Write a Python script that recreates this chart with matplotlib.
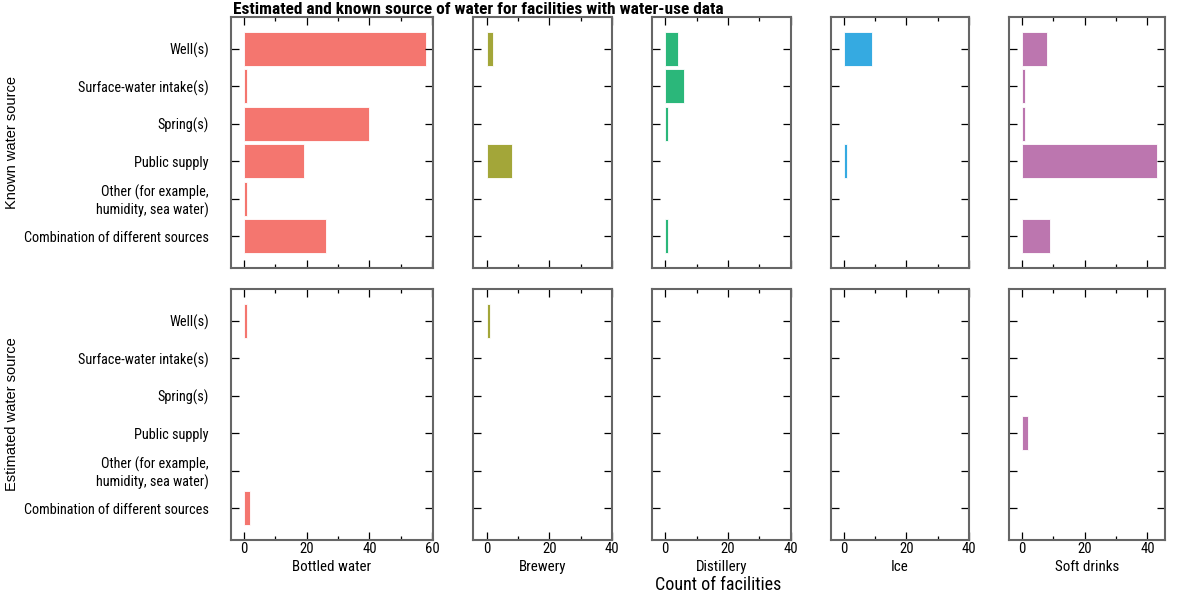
import matplotlib
matplotlib.use('Agg')
import matplotlib.pyplot as plt
from matplotlib.ticker import MultipleLocator

# water source categories, top to bottom
sources = ['Well(s)', 'Surface-water intake(s)', 'Spring(s)', 'Public supply',
           'Other (for example,\nhumidity, sea water)', 'Combination of different sources']
industries = ['Bottled water', 'Brewery', 'Distillery', 'Ice', 'Soft drinks']

# counts of facilities, one list per industry (same order as sources)
known_bottled = [58, 1, 40, 19, 1, 26]
known_brewery = [2, 0, 0, 8, 0, 0]
known_distillery = [4, 6, 1, 0, 0, 1]
known_ice = [9, 0, 0, 1, 0, 0]
known_soft = [8, 1, 1, 43, 0, 9]

est_bottled = [1, 0, 0, 0, 0, 2]
est_brewery = [1, 0, 0, 0, 0, 0]
est_distillery = [0, 0, 0, 0, 0, 0]
est_ice = [0, 0, 0, 0, 0, 0]
est_soft = [0, 0, 0, 2, 0, 0]

known = [known_bottled, known_brewery, known_distillery, known_ice, known_soft]
estimated = [est_bottled, est_brewery, est_distillery, est_ice, est_soft]
row_labels = ['Known water source', 'Estimated water source']

colors = ['#F4766F', '#A3A639', '#2BB77A', '#35AAE1', '#BC76AF']
x_limits = [(-4.2, 60.3), (-4.4, 40), (-4.2, 40), (-4.2, 40), (-4.2, 45.6)]
x_majors = [[0, 20, 40, 60], [0, 20, 40], [0, 20, 40], [0, 20, 40], [0, 20, 40]]

cond = dict(family=['Roboto Condensed', 'DejaVu Sans'])
W, H = 1180, 595
fig = plt.figure(figsize=(W / 100, H / 100), dpi=100)

left_px, right_px, gap_px = 231, 1165, 40
rows_px = [(17, 268), (289, 540)]
total_range = sum(hi - lo for lo, hi in x_limits)
scale = (right_px - left_px - gap_px * 4) / total_range

for r, data in enumerate([known, estimated]):
    top, bottom = rows_px[r]
    x0 = left_px
    for c in range(5):
        lo, hi = x_limits[c]
        w = (hi - lo) * scale
        ax = fig.add_axes([x0 / W, 1 - bottom / H, w / W, (bottom - top) / H])
        x0 += w + gap_px
        ax.barh(range(len(sources)), data[c], height=0.9, color=colors[c],
                edgecolor='white', linewidth=0.6)
        ax.set_xlim(lo, hi)
        ax.set_ylim(5.85, -0.85)
        ax.set_yticks(range(len(sources)))
        ax.xaxis.set_major_locator(plt.FixedLocator(x_majors[c]))
        ax.xaxis.set_minor_locator(MultipleLocator(10))
        ax.tick_params(which='both', direction='in', top=True, right=True,
                       width=0.9, color='black')
        ax.tick_params(which='major', length=6)
        ax.tick_params(which='minor', length=3)
        ax.tick_params(axis='y', which='minor', length=0)
        for s in ax.spines.values():
            s.set_color('#666666')
            s.set_linewidth(1.5)
        if c == 0:
            ax.set_yticklabels(sources, fontsize=10.3, linespacing=1.15, **cond)
            ax.tick_params(axis='y', pad=16)
        else:
            ax.set_yticklabels([])
        if r == 1:
            ax.set_xticklabels([str(v) for v in x_majors[c]], fontsize=10.5, **cond)
            ax.tick_params(axis='x', pad=1.5)
            ax.set_xlabel(industries[c], fontsize=10.8, labelpad=3, **cond)
        else:
            ax.set_xticklabels([])
    fig.text(12 / W, 1 - (top + bottom) / 2 / H, row_labels[r], rotation=90,
             fontsize=10.5, family=['Liberation Sans', 'DejaVu Sans'], ha='center', va='center')

fig.text(233 / W, 1 - 10 / H, 'Estimated and known source of water for facilities with water-use data',
         fontsize=12.5, fontweight='bold', ha='left', va='center', **cond)
fig.text(718 / W, 1 - 585 / H, 'Count of facilities', fontsize=13,
         ha='center', va='center', **cond)

fig.savefig('out.png', dpi=100)
